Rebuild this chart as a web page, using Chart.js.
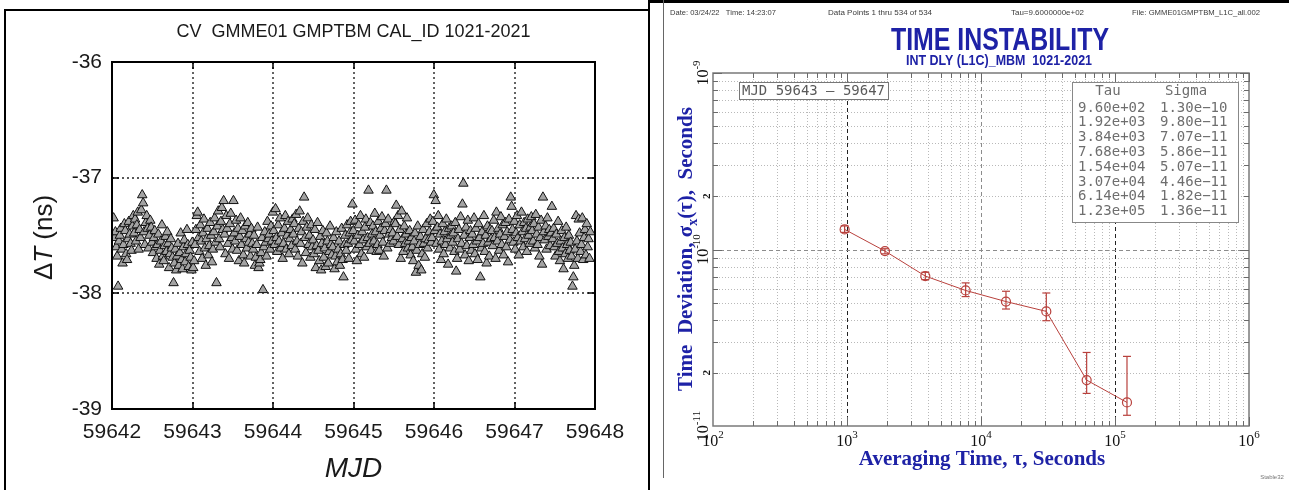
<!DOCTYPE html>
<html>
<head>
<meta charset="utf-8">
<script src="https://cdn.jsdelivr.net/npm/chart.js@4.4.1/dist/chart.umd.min.js"></script>
<style>
html,body{margin:0;padding:0;background:#fff;width:1289px;height:490px;overflow:hidden;}
.pane{position:absolute;top:0;}
#leftPane{left:0;width:648px;height:490px;}
#rightPane{left:650px;width:639px;height:490px;}
.ln{position:absolute;background:#000;}
</style>
</head>
<body>
<div class="pane" id="leftPane"><canvas id="cL" width="648" height="490"></canvas></div>
<div class="pane" id="rightPane"><canvas id="cR" width="639" height="490"></canvas></div>
<div class="ln" style="left:4px;top:9px;width:2px;height:481px"></div>
<div class="ln" style="left:4px;top:9px;width:646px;height:2px"></div>
<div class="ln" style="left:648px;top:0;width:2px;height:490px"></div>
<div class="ln" style="left:650px;top:0;width:639px;height:3px"></div>
<div class="ln" style="left:663px;top:0;width:1px;height:478px;background:#666"></div>
<script>
// ---------------- LEFT PANEL DATA (CV time difference, ns) ----------------
const mjdStart = 59642.02;      // first epoch (MJD)
const sampleSec = 960;          // CV sampling interval, s
const mjdTicks = [59642, 59643, 59644, 59645, 59646, 59647, 59648];
const dtTicks = [-39, -38, -37, -36];
const dtNs = [
 -37.35,-37.52,-37.47,-37.60,-37.68,-37.94,-37.55,-37.50,-37.44,-37.62,-37.74,-37.58,-37.40,-37.46,-37.66,-37.71,-37.53,-37.38,-37.49,-37.57,-37.63,-37.42,-37.33,
 -37.48,-37.36,-37.55,-37.41,-37.30,-37.62,-37.45,-37.52,-37.28,-37.15,-37.22,-37.47,-37.58,-37.39,-37.33,-37.44,-37.61,-37.50,-37.37,-37.43,-37.56,-37.65,
 -37.52,-37.46,-37.60,-37.70,-37.58,-37.49,-37.75,-37.63,-37.55,-37.41,-37.68,-37.72,-37.59,-37.51,-37.64,-37.47,-37.57,-37.78,-37.66,-37.53,-37.61,-37.69,
 -37.91,-37.74,-37.62,-37.80,-37.68,-37.57,-37.76,-37.65,-37.48,-37.71,-37.79,-37.60,-37.54,-37.73,-37.66,-37.45,-37.58,-37.77,-37.63,-37.69,-37.80,-37.56,
 -37.78,-37.72,-37.58,-37.45,-37.33,-37.30,-37.52,-37.64,-37.41,-37.55,-37.70,-37.48,-37.36,-37.61,-37.76,-37.53,-37.44,-37.67,-37.59,-37.39,-37.50,-37.73,-37.62,
 -37.47,-37.35,-37.56,-37.91,-37.42,-37.29,-37.53,-37.60,-37.38,-37.26,-37.45,-37.20,-37.49,-37.66,-37.33,-37.44,-37.57,-37.70,-37.40,-37.31,-37.52,-37.62,
 -37.20,-37.48,-37.55,-37.37,-37.63,-37.44,-37.72,-37.51,-37.35,-37.58,-37.46,-37.67,-37.74,-37.42,-37.53,-37.61,-37.39,-37.56,-37.49,-37.68,-37.44,-37.57,
 -37.62,-37.50,-37.76,-37.69,-37.58,-37.43,-37.78,-37.74,-37.71,-37.65,-37.52,-37.97,-37.60,-37.47,-37.56,-37.68,-37.38,-37.53,-37.49,-37.62,-37.42,-37.55,
 -37.30,-37.46,-37.58,-37.27,-37.52,-37.64,-37.41,-37.55,-37.35,-37.61,-37.48,-37.70,-37.57,-37.44,-37.33,-37.62,-37.50,-37.38,-37.66,-37.53,-37.45,-37.59,-37.36,
 -37.49,-37.40,-37.62,-37.32,-37.55,-37.68,-37.44,-37.29,-37.57,-37.47,-37.74,-37.38,-37.17,-37.52,-37.65,-37.43,-37.35,-37.58,-37.50,-37.69,-37.41,-37.60,
 -37.54,-37.66,-37.45,-37.78,-37.59,-37.39,-37.63,-37.72,-37.51,-37.80,-37.57,-37.46,-37.69,-37.61,-37.77,-37.48,-37.55,-37.74,-37.64,-37.42,-37.58,-37.67,
 -37.60,-37.52,-37.79,-37.68,-37.47,-37.73,-37.62,-37.55,-37.76,-37.66,-37.44,-37.71,-37.86,-37.58,-37.50,-37.63,-37.41,-37.57,-37.70,-37.48,-37.38,-37.54,
 -37.23,-37.46,-37.55,-37.37,-37.62,-37.72,-37.50,-37.41,-37.58,-37.33,-37.66,-37.47,-37.54,-37.69,-37.43,-37.36,-37.60,-37.52,-37.11,-37.57,-37.39,-37.63,-37.49,
 -37.42,-37.55,-37.31,-37.47,-37.64,-37.58,-37.38,-37.63,-37.50,-37.44,-37.34,-37.56,-37.68,-37.46,-37.40,-37.11,-37.61,-37.36,-37.49,-37.57,-37.45,-37.52,
 -37.48,-37.55,-37.38,-37.40,-37.24,-37.51,-37.33,-37.58,-37.45,-37.70,-37.29,-37.53,-37.64,-37.42,-37.57,-37.49,-37.35,-37.61,-37.55,-37.46,-37.67,-37.52,
 -37.60,-37.72,-37.55,-37.48,-37.82,-37.63,-37.42,-37.76,-37.58,-37.51,-37.80,-37.66,-37.45,-37.57,-37.69,-37.53,-37.40,-37.61,-37.54,-37.47,-37.36,-37.56,
 -37.52,-37.38,-37.15,-37.46,-37.20,-37.57,-37.43,-37.33,-37.62,-37.49,-37.71,-37.55,-37.40,-37.66,-37.47,-37.58,-37.36,-37.53,-37.75,-37.44,-37.61,-37.50,-37.42,
 -37.56,-37.48,-37.64,-37.39,-37.81,-37.70,-37.53,-37.45,-37.62,-37.34,-37.57,-37.23,-37.05,-37.50,-37.67,-37.43,-37.59,-37.37,-37.72,-37.52,-37.46,-37.63,
 -37.49,-37.58,-37.35,-37.66,-37.44,-37.55,-37.71,-37.40,-37.52,-37.86,-37.61,-37.47,-37.57,-37.33,-37.64,-37.50,-37.74,-37.42,-37.56,-37.68,-37.45,-37.53,
 -37.46,-37.59,-37.37,-37.52,-37.70,-37.30,-37.55,-37.44,-37.63,-37.49,-37.34,-37.58,-37.41,-37.67,-37.51,-37.39,-37.60,-37.47,-37.73,-37.36,-37.54,-37.17,
 -37.25,-37.45,-37.56,-37.38,-37.62,-37.48,-37.33,-37.52,-37.67,-37.41,-37.55,-37.30,-37.47,-37.60,-37.39,-37.53,-37.44,-37.64,-37.36,-37.50,-37.57,-37.43,-37.34,
 -37.46,-37.55,-37.40,-37.61,-37.32,-37.49,-37.58,-37.43,-37.68,-37.52,-37.37,-37.75,-37.17,-37.47,-37.54,-37.42,-37.62,-37.35,-37.51,-37.45,-37.59,-37.48,
 -37.25,-37.53,-37.44,-37.60,-37.68,-37.49,-37.57,-37.38,-37.64,-37.72,-37.55,-37.46,-37.61,-37.79,-37.52,-37.66,-37.43,-37.58,-37.70,-37.50,-37.63,-37.56,
 -37.68,-37.94,-37.86,-37.76,-37.62,-37.33,-37.55,-37.70,-37.36,-37.48,-37.64,-37.58,-37.35,-37.71,-37.52,-37.45,-37.67,-37.40,-37.60,-37.53,-37.70,-37.47
];

// ---------------- RIGHT PANEL DATA (time deviation) ----------------
const tauSec   = [960, 1920, 3840, 7680, 15360, 30720, 61440, 122880];
const sigmaSec = [1.30e-10, 9.80e-11, 7.07e-11, 5.86e-11, 5.07e-11, 4.46e-11, 1.82e-11, 1.36e-11];
const sigmaLo  = [1.25e-10, 9.45e-11, 6.75e-11, 5.41e-11, 4.60e-11, 3.95e-11, 1.53e-11, 1.15e-11];
const sigmaHi  = [1.36e-10, 1.01e-10, 7.43e-11, 6.47e-11, 5.80e-11, 5.67e-11, 2.61e-11, 2.48e-11];
const tauDecades = [2, 3, 4, 5, 6];
const sigDecades = [-11, -10, -9];
const minorMult = [2, 3, 4, 5, 6, 7, 8, 9];
const sigMinorLabels = [2e-11, 2e-10];

// ---------------- helpers ----------------
const SANS = '"Liberation Sans", Arial, sans-serif';
const SERIF = '"Liberation Serif", "DejaVu Serif", serif';
const MONO = '"DejaVu Sans Mono", monospace';
const RED = '#b8403c';
const BLUE = '#1e22a6';
function seg(ctx, x1, y1, x2, y2) { ctx.beginPath(); ctx.moveTo(x1, y1); ctx.lineTo(x2, y2); ctx.stroke(); }
function fmtE(v) {
  const s = v.toExponential(2);
  const [m, e] = s.split('e');
  const sign = e[0] === '-' ? '\u2212' : '+';
  const d = e.slice(1).padStart(2, '0');
  return m + 'e' + sign + d;
}

// ---------------- LEFT CHART ----------------
const leftDecor = {
  id: 'leftDecor',
  beforeDatasetsDraw(chart) {
    const { ctx, chartArea: a, scales: { x, y } } = chart;
    ctx.save();
    ctx.strokeStyle = '#222'; ctx.lineWidth = 1.4; ctx.setLineDash([2, 3]);
    mjdTicks.slice(1, -1).forEach(v => { const p = Math.round(x.getPixelForValue(v)); seg(ctx, p, a.top, p, a.bottom); });
    dtTicks.slice(1, -1).forEach(v => { const p = Math.round(y.getPixelForValue(v)); seg(ctx, a.left, p, a.right, p); });
    ctx.restore();
  },
  afterDatasetsDraw(chart) {
    const { ctx, chartArea: a, scales: { x, y } } = chart;
    ctx.save();
    ctx.strokeStyle = '#000'; ctx.lineWidth = 2; ctx.setLineDash([]);
    ctx.strokeRect(a.left, a.top, a.right - a.left, a.bottom - a.top);
    ctx.lineWidth = 1.5;
    mjdTicks.slice(1, -1).forEach(v => { const p = Math.round(x.getPixelForValue(v)); seg(ctx, p, a.bottom, p, a.bottom - 7); seg(ctx, p, a.top, p, a.top + 7); });
    dtTicks.slice(1, -1).forEach(v => { const p = Math.round(y.getPixelForValue(v)); seg(ctx, a.left, p, a.left + 7, p); seg(ctx, a.right, p, a.right - 7, p); });
    ctx.restore();
  },
  afterDraw(chart) {
    const { ctx, chartArea: a } = chart;
    const cx = (a.left + a.right) / 2;
    ctx.save();
    ctx.fillStyle = '#1a1a1a';
    ctx.textAlign = 'center'; ctx.textBaseline = 'middle';
    ctx.font = `18px ${SANS}`;
    ctx.fillText('CV  GMME01 GMPTBM CAL_ID 1021-2021', cx, 32);
    ctx.font = `italic 28px ${SANS}`;
    ctx.fillText('MJD', cx, 469);
    // y title: Δ T (ns) with italic T
    const parts = [['\u0394', `26px ${SANS}`], ['T', `italic 26px ${SANS}`], [' (ns)', `26px ${SANS}`]];
    let w = 0; parts.forEach(p => { ctx.font = p[1]; w += ctx.measureText(p[0]).width; });
    ctx.translate(45, (a.top + a.bottom) / 2 + 2);
    ctx.rotate(-Math.PI / 2);
    ctx.textAlign = 'left';
    let xx = -w / 2;
    parts.forEach(p => { ctx.font = p[1]; ctx.fillText(p[0], xx, 0); xx += ctx.measureText(p[0]).width; });
    ctx.restore();
  }
};

new Chart(document.getElementById('cL'), {
  type: 'scatter',
  data: {
    datasets: [{
      data: dtNs.map((v, i) => ({ x: mjdStart + i * sampleSec / 86400, y: v })),
      pointStyle: 'triangle',
      pointRadius: 5.5,
      backgroundColor: '#a3a3a3',
      borderColor: '#111',
      borderWidth: 1
    }]
  },
  options: {
    responsive: false, animation: false, events: [],
    layout: { padding: { left: 0, top: 62, right: 53, bottom: 0 } },
    plugins: { legend: { display: false }, tooltip: { enabled: false }, title: { display: false } },
    scales: {
      x: {
        type: 'linear', min: mjdTicks[0], max: mjdTicks[mjdTicks.length - 1],
        afterBuildTicks: s => { s.ticks = mjdTicks.map(v => ({ value: v })); },
        ticks: { callback: v => String(v), color: '#1a1a1a', font: { family: SANS, size: 21 }, padding: 11, maxRotation: 0, autoSkip: false },
        grid: { display: false, drawTicks: false }, border: { display: false },
        afterFit: s => { s.height = 81; }
      },
      y: {
        type: 'linear', min: dtTicks[0], max: dtTicks[dtTicks.length - 1],
        afterBuildTicks: s => { s.ticks = dtTicks.map(v => ({ value: v })); },
        ticks: { callback: v => String(v), color: '#1a1a1a', font: { family: SANS, size: 21 }, padding: 10, autoSkip: false },
        grid: { display: false, drawTicks: false }, border: { display: false },
        afterFit: s => { s.width = 112; }
      }
    }
  },
  plugins: [leftDecor]
});

// ---------------- RIGHT CHART ----------------
function drawPow(ctx, exp, cx, cy, rot) {
  const fb = `16px ${SERIF}`, fs = `11px ${SERIF}`;
  ctx.save();
  ctx.translate(cx, cy); if (rot) ctx.rotate(-Math.PI / 2);
  ctx.font = fb; const wb = ctx.measureText('10').width;
  ctx.font = fs; const we = ctx.measureText(exp).width;
  const s = -(wb + we) / 2;
  ctx.textAlign = 'left'; ctx.textBaseline = 'middle'; ctx.fillStyle = '#111';
  ctx.font = fb; ctx.fillText('10', s, 0);
  ctx.font = fs; ctx.fillText(exp, s + wb, -7);
  ctx.restore();
}

const rightDecor = {
  id: 'rightDecor',
  beforeDatasetsDraw(chart) {
    const { ctx, chartArea: a, scales: { x, y } } = chart;
    ctx.save();
    ctx.lineWidth = 1; ctx.strokeStyle = '#b9b9b9'; ctx.setLineDash([1, 2]);
    for (let i = 0; i < tauDecades.length - 1; i++) minorMult.forEach(m => {
      const p = Math.round(x.getPixelForValue(m * Math.pow(10, tauDecades[i]))) + 0.5; seg(ctx, p, a.top, p, a.bottom);
    });
    for (let i = 0; i < sigDecades.length - 1; i++) minorMult.forEach(m => {
      const p = Math.round(y.getPixelForValue(m * Math.pow(10, sigDecades[i]))) + 0.5; seg(ctx, a.left, p, a.right, p);
    });
    ctx.setLineDash([4, 3]);
    tauDecades.slice(1, -1).forEach(e => {
      ctx.strokeStyle = (e === 4) ? '#8c8c8c' : '#222';
      const p = Math.round(x.getPixelForValue(Math.pow(10, e))) + 0.5; seg(ctx, p, a.top, p, a.bottom);
    });
    sigDecades.slice(1, -1).forEach(e => {
      ctx.strokeStyle = '#8c8c8c';
      const p = Math.round(y.getPixelForValue(Math.pow(10, e))) + 0.5; seg(ctx, a.left, p, a.right, p);
    });
    ctx.restore();
  },
  afterDatasetsDraw(chart) {
    const { ctx, chartArea: a, scales: { x, y } } = chart;
    ctx.save();
    // error bars
    ctx.strokeStyle = RED; ctx.lineWidth = 1.2;
    tauSec.forEach((t, i) => {
      const px = x.getPixelForValue(t), y1 = y.getPixelForValue(sigmaLo[i]), y2 = y.getPixelForValue(sigmaHi[i]);
      seg(ctx, px, y1, px, y2); seg(ctx, px - 4, y1, px + 4, y1); seg(ctx, px - 4, y2, px + 4, y2);
    });
    // frame
    ctx.strokeStyle = '#7a7a7a'; ctx.lineWidth = 1.5;
    ctx.strokeRect(a.left, a.top, a.right - a.left, a.bottom - a.top);
    // inner ticks
    ctx.lineWidth = 1; ctx.strokeStyle = '#6a6a6a';
    for (let i = 0; i < tauDecades.length - 1; i++) minorMult.concat([10]).forEach(m => {
      const p = Math.round(x.getPixelForValue(m * Math.pow(10, tauDecades[i]))) + 0.5; const L = m === 10 ? 9 : 5;
      seg(ctx, p, a.top, p, a.top + L); seg(ctx, p, a.bottom, p, a.bottom - L);
    });
    for (let i = 0; i < sigDecades.length - 1; i++) minorMult.concat([10]).forEach(m => {
      const p = Math.round(y.getPixelForValue(m * Math.pow(10, sigDecades[i]))) + 0.5; const L = m === 10 ? 9 : 5;
      seg(ctx, a.left, p, a.left + L, p); seg(ctx, a.right, p, a.right - L, p);
    });
    ctx.restore();
  },
  afterDraw(chart) {
    const { ctx, chartArea: a, scales: { x, y } } = chart;
    ctx.save();
    // header line
    ctx.fillStyle = '#3a3a3a'; ctx.font = `8px ${SANS}`; ctx.textBaseline = 'middle'; ctx.textAlign = 'left';
    ctx.fillText('Date: 03/24/22   Time: 14:23:07', 20, 13, 106);
    ctx.fillText('Data Points 1 thru 534 of 534', 178, 13, 109);
    ctx.fillText('Tau=9.6000000e+02', 361, 13, 73);
    ctx.fillText('File: GMME01GMPTBM_L1C_all.002', 482, 13, 128);
    // titles
    ctx.fillStyle = BLUE; ctx.textAlign = 'center';
    ctx.font = `bold 31px ${SANS}`;
    ctx.fillText('TIME INSTABILITY', 350, 41, 218);
    ctx.font = `bold 14px ${SANS}`;
    ctx.fillText('INT DLY (L1C)_MBM  1021-2021', 349, 61, 186);
    // x title
    ctx.font = `bold 21px ${SERIF}`;
    ctx.fillText('Averaging Time, \u03c4, Seconds', 332, 460);
    // y title rotated with subscript
    const parts = [['Time  Deviation, \u03c3', `bold 21px ${SERIF}`, 0], ['x', `bold 14px ${SERIF}`, 6], ['(\u03c4),  Seconds', `bold 21px ${SERIF}`, 0]];
    let w = 0; parts.forEach(p => { ctx.font = p[1]; w += ctx.measureText(p[0]).width; });
    ctx.save();
    ctx.translate(37, 249); ctx.rotate(-Math.PI / 2); ctx.textAlign = 'left';
    let xx = -w / 2;
    parts.forEach(p => { ctx.font = p[1]; ctx.fillText(p[0], xx, p[2]); xx += ctx.measureText(p[0]).width; });
    ctx.restore();
    // tick labels
    tauDecades.forEach(e => drawPow(ctx, String(e), x.getPixelForValue(Math.pow(10, e)), 442, false));
    sigDecades.forEach(e => drawPow(ctx, String(e), 54, y.getPixelForValue(Math.pow(10, e)), true));
    sigMinorLabels.forEach(v => {
      ctx.save(); ctx.translate(57, y.getPixelForValue(v)); ctx.rotate(-Math.PI / 2);
      ctx.font = `bold 11px ${SERIF}`; ctx.fillStyle = '#111'; ctx.textAlign = 'center'; ctx.textBaseline = 'middle';
      ctx.fillText(String(Math.round(v / Math.pow(10, Math.floor(Math.log10(v) + 1e-9)))), 0, 0);
      ctx.restore();
    });
    // MJD box
    ctx.fillStyle = '#fff'; ctx.strokeStyle = '#777'; ctx.lineWidth = 1;
    ctx.fillRect(89, 82, 149, 17); ctx.strokeRect(89.5, 82.5, 149, 17);
    ctx.fillStyle = '#5a5a5a'; ctx.font = `14px ${MONO}`; ctx.textAlign = 'center'; ctx.textBaseline = 'middle';
    ctx.fillText('MJD 59643 \u2013 59647', 163.5, 91.5, 143);
    // Table box
    ctx.fillStyle = '#fff'; ctx.fillRect(422, 82, 166, 140);
    ctx.strokeStyle = '#888'; ctx.strokeRect(422.5, 82.5, 166, 140);
    ctx.fillStyle = '#6e6e6e'; ctx.font = `14px ${MONO}`;
    ctx.fillText('Tau', 458, 91); ctx.fillText('Sigma', 536, 91);
    ctx.textAlign = 'left';
    tauSec.forEach((t, i) => {
      const yy = 108 + i * 14.8;
      ctx.fillText(fmtE(t), 428, yy);
      ctx.fillText(fmtE(sigmaSec[i]), 510, yy);
    });
    // Stable32 tag
    ctx.fillStyle = '#777'; ctx.font = `6px ${SANS}`; ctx.textAlign = 'center';
    ctx.fillText('Stable32', 622, 477);
    ctx.restore();
  }
};

new Chart(document.getElementById('cR'), {
  type: 'scatter',
  data: {
    datasets: [{
      data: tauSec.map((t, i) => ({ x: t, y: sigmaSec[i] })),
      showLine: true,
      borderColor: RED, borderWidth: 1,
      pointStyle: 'circle', pointRadius: 4.5,
      pointBackgroundColor: 'rgba(0,0,0,0)', pointBorderColor: RED, pointBorderWidth: 1.2
    }]
  },
  options: {
    responsive: false, animation: false, events: [],
    layout: { padding: { left: 0, top: 73, right: 40, bottom: 0 } },
    plugins: { legend: { display: false }, tooltip: { enabled: false }, title: { display: false } },
    scales: {
      x: {
        type: 'logarithmic', min: Math.pow(10, tauDecades[0]), max: Math.pow(10, tauDecades[tauDecades.length - 1]),
        ticks: { display: false }, grid: { display: false, drawTicks: false }, border: { display: false },
        afterFit: s => { s.height = 64; }
      },
      y: {
        type: 'logarithmic', min: Math.pow(10, sigDecades[0]), max: Math.pow(10, sigDecades[sigDecades.length - 1]),
        ticks: { display: false }, grid: { display: false, drawTicks: false }, border: { display: false },
        afterFit: s => { s.width = 63; }
      }
    }
  },
  plugins: [rightDecor]
});
</script>
</body>
</html>
